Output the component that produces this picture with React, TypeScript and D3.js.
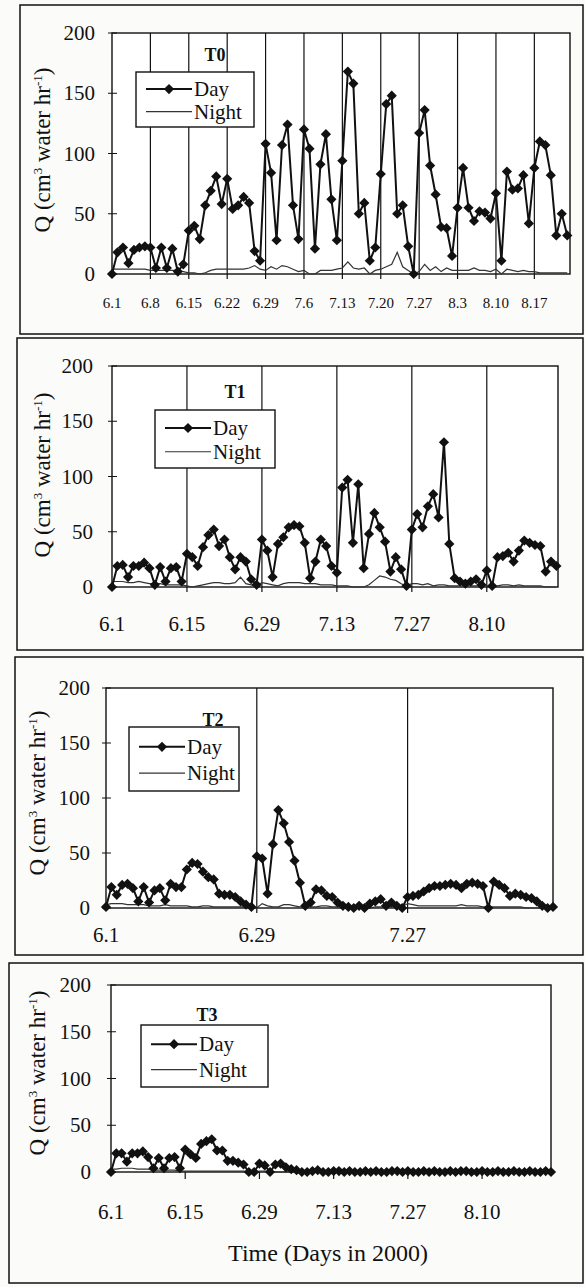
import React from "react";
import * as d3 from "d3";

// ---------- data (daily values, 6.1 = day 0) ----------
const t0Day = [0,18,22,9,20,22,23,22,5,22,
  5,21,2,8,36,40,29,57,69,81,
  58,79,54,57,64,59,19,11,108,84,
  28,107,124,57,29,120,104,21,91,116,
  62,28,94,168,158,50,59,11,22,83,
  141,148,50,57,23,0,117,136,90,66,
  39,38,15,55,88,55,44,52,51,46,
  67,11,85,70,71,82,42,88,110,107,
  82,32,50,32];
const t0Night = [4,4,4,4,4,4,4,3,3,3,
  3,3,3,2,1,1,0,1,3,4,
  4,4,4,4,4,5,7,4,3,6,
  4,7,6,4,2,3,0,0,3,3,
  3,4,5,10,5,4,5,0,3,4,
  6,8,18,6,3,0,2,8,3,6,
  2,5,3,3,3,3,5,3,3,2,
  4,0,4,3,2,3,2,2,1,1,
  1,1,1,1];
const t1Day = [0,19,20,9,19,19,22,17,2,18,
  5,17,18,5,30,27,19,36,47,52,
  37,43,27,16,27,23,7,2,43,33,
  9,39,45,54,56,55,40,8,23,43,
  37,19,13,90,97,40,93,17,48,67,
  54,41,14,27,16,1,52,66,54,73,
  84,63,131,39,8,5,3,5,7,2,
  15,1,27,28,31,23,33,42,40,38,
  37,14,23,19];
const t1Night = [5,5,5,4,4,5,4,3,3,3,
  2,2,2,2,1,0,1,2,3,4,
  4,3,3,4,9,3,2,1,4,3,
  2,1,3,4,4,4,3,3,3,2,
  2,2,1,1,1,0,0,0,2,6,
  10,9,7,6,3,1,3,3,2,3,
  1,2,2,1,1,1,1,1,1,1,
  1,1,1,2,2,1,2,1,1,1,
  1,0,0,0];
const t2Day = [1,19,12,21,22,18,6,19,5,16,
  18,7,22,19,19,35,41,40,33,28,
  26,13,12,12,10,6,3,1,47,45,
  13,58,89,77,60,43,23,2,5,17,
  16,11,10,5,2,1,0,2,0,4,
  6,8,2,5,2,0,10,11,12,15,
  18,20,20,21,22,21,18,22,23,22,
  20,0,24,21,18,11,13,12,10,9,
  6,2,0,1];
const t2Night = [3,4,4,4,3,3,3,3,2,2,
  2,3,2,2,2,2,1,1,2,2,
  1,1,1,1,1,1,1,0,0,4,
  2,1,1,3,3,2,1,1,1,1,
  2,2,1,1,1,1,1,1,0,0,
  1,1,1,1,1,1,4,3,2,2,
  2,2,2,2,2,2,3,2,2,2,
  1,1,1,1,1,1,1,1,0,0,
  0,0,0,0];
const t3Day = [0,20,20,11,20,20,22,16,4,15,
  4,15,16,4,24,19,15,30,33,35,
  23,23,12,12,10,8,0,0,9,7,
  0,8,9,5,3,2,0,0,1,2,
  0,0,1,1,0,1,0,0,1,0,
  1,0,0,1,1,0,1,0,0,1,
  0,1,0,0,1,0,1,1,0,0,
  1,0,0,1,0,0,1,0,0,1,
  0,0,1,0];
const t3Night = [3,3,4,4,4,3,3,3,2,2,
  2,2,2,1,1,1,1,1,1,1,
  1,1,1,1,1,1,0,0,1,1,
  1,0,0,0,0,0,0,0,0,0,
  0,0,0,0,0,0,0,0,0,0,
  0,0,0,0,0,0,0,0,0,0,
  0,0,0,0,0,0,0,0,0,0,
  0,0,0,0,0,0,0,0,0,0,
  0,0,0,0];

const t0TickLabels = ["6.1","6.8","6.15","6.22","6.29","7.6","7.13","7.20","7.27","8.3","8.10","8.17"];
const t0TickDays = [0,7,14,21,28,35,42,49,56,63,70,77];
const t1TickLabels = ["6.1","6.15","6.29","7.13","7.27","8.10"];
const t1TickDays = [0,14,28,42,56,70];
const t2TickLabels = ["6.1","6.29","7.27"];
const t2TickDays = [0,28,56];
const t3TickLabels = ["6.1","6.15","6.29","7.13","7.27","8.10"];
const t3TickDays = [0,14,28,42,56,70];
const yTicks = [0, 50, 100, 150, 200];
const seriesNames = ["Day", "Night"];
const panelTitles = ["T0", "T1", "T2", "T3"];
const xTitle = "Time (Days in 2000)";

const FONT = "Liberation Serif, Tinos, DejaVu Serif, serif";

type Cfg = {
  title: string; day: number[]; night: number[];
  tickDays: number[]; tickLabels: string[]; gridlines: boolean;
  frame: [number, number, number, number];
  left: number; right: number; top: number; bottom: number; xMax: number;
  tickFont: number; tickY: number; yLabX: number;
  titleX: number; titleY: number;
  legend: [number, number, number, number];
  yTitleX: number; yTitleY: number;
};

const panels: Cfg[] = [
  { title: panelTitles[0], day: t0Day, night: t0Night, tickDays: t0TickDays, tickLabels: t0TickLabels, gridlines: true,
    frame: [20, 5, 583, 334], left: 112, right: 570, top: 33, bottom: 274, xMax: 83.5,
    tickFont: 15, tickY: 308, yLabX: 95, titleX: 215, titleY: 61,
    legend: [136, 72, 254, 127], yTitleX: 50, yTitleY: 150 },
  { title: panelTitles[1], day: t1Day, night: t1Night, tickDays: t1TickDays, tickLabels: t1TickLabels, gridlines: true,
    frame: [17, 338, 583, 650], left: 112, right: 558, top: 366, bottom: 587, xMax: 83.3,
    tickFont: 21, tickY: 631, yLabX: 93, titleX: 235, titleY: 398,
    legend: [155, 410, 275, 468], yTitleX: 50, yTitleY: 475 },
  { title: panelTitles[2], day: t2Day, night: t2Night, tickDays: t2TickDays, tickLabels: t2TickLabels, gridlines: true,
    frame: [15, 657, 583, 955], left: 106, right: 553, top: 688, bottom: 908, xMax: 83,
    tickFont: 21, tickY: 942, yLabX: 90, titleX: 213, titleY: 726,
    legend: [129, 727, 239, 791], yTitleX: 45, yTitleY: 793 },
  { title: panelTitles[3], day: t3Day, night: t3Night, tickDays: t3TickDays, tickLabels: t3TickLabels, gridlines: false,
    frame: [9, 963, 583, 1283], left: 111, right: 551, top: 985, bottom: 1172, xMax: 83,
    tickFont: 21, tickY: 1219, yLabX: 91, titleX: 207, titleY: 1021,
    legend: [141, 1025, 268, 1087], yTitleX: 45, yTitleY: 1073 },
];

function Panel({ c }: { c: Cfg }) {
  const x = d3.scaleLinear().domain([0, c.xMax]).range([c.left, c.right]);
  const y = d3.scaleLinear().domain([0, 200]).range([c.bottom, c.top]);
  const line = d3.line<number>().x((_, i) => x(i)).y((d) => y(d));
  const diamond = d3.symbol().type(d3.symbolSquare).size(52)() as string;
  const [lx1, ly1, lx2, ly2] = c.legend;
  const row1 = ly1 + (ly2 - ly1) * 0.31;
  const row2 = ly1 + (ly2 - ly1) * 0.72;
  const sx1 = lx1 + 10, sx2 = lx1 + 56, tx = lx1 + 58;
  return (
    <g>
      <rect x={c.frame[0]} y={c.frame[1]} width={c.frame[2] - c.frame[0]} height={c.frame[3] - c.frame[1]}
        fill="none" stroke="#111" strokeWidth={1.5} />
      <rect x={c.left} y={c.top} width={c.right - c.left} height={c.bottom - c.top} fill="#fff" stroke="#111" strokeWidth={1.4} />
      {c.gridlines && c.tickDays.filter((d) => d > 0).map((d) => (
        <line key={"g" + d} x1={x(d)} x2={x(d)} y1={c.top} y2={c.bottom + 5} stroke="#111" strokeWidth={1.2} />
      ))}
      {!c.gridlines && c.tickDays.filter((d) => d > 0).map((d) => (
        <line key={"t" + d} x1={x(d)} x2={x(d)} y1={c.bottom} y2={c.bottom + 7} stroke="#111" strokeWidth={1.2} />
      ))}
      {yTicks.map((v) => (
        <g key={"y" + v}>
          <line x1={c.left - 4} x2={c.left + 5} y1={y(v)} y2={y(v)} stroke="#111" strokeWidth={1} />
          <text x={c.yLabX} y={y(v) + 7} textAnchor="end" fontSize={21} fontFamily={FONT} fill="#111">{v}</text>
        </g>
      ))}
      {c.tickDays.map((d, i) => (
        <text key={"xl" + d} x={x(d)} y={c.tickY} textAnchor="middle" fontSize={c.tickFont} fontFamily={FONT} fill="#111">
          {c.tickLabels[i]}
        </text>
      ))}
      <path d={line(c.night) || ""} fill="none" stroke="#333" strokeWidth={1.2} />
      <path d={line(c.day) || ""} fill="none" stroke="#111" strokeWidth={2} />
      {c.day.map((v, i) => (
        <path key={"m" + i} d={diamond} transform={`translate(${x(i)},${y(v)}) rotate(45)`} fill="#111" />
      ))}
      <text x={c.titleX} y={c.titleY} textAnchor="middle" fontSize={18} fontWeight="bold" fontFamily={FONT} fill="#111">{c.title}</text>
      <rect x={lx1} y={ly1} width={lx2 - lx1} height={ly2 - ly1} fill="#fff" stroke="#111" strokeWidth={1.4} />
      <line x1={sx1} x2={sx2} y1={row1} y2={row1} stroke="#111" strokeWidth={2} />
      <path d={diamond} transform={`translate(${(sx1 + sx2) / 2},${row1}) rotate(45)`} fill="#111" />
      <text x={tx} y={row1 + 7} fontSize={21} fontFamily={FONT} fill="#111">{seriesNames[0]}</text>
      <line x1={sx1} x2={sx2} y1={row2} y2={row2} stroke="#333" strokeWidth={1.2} />
      <text x={tx} y={row2 + 7} fontSize={21} fontFamily={FONT} fill="#111">{seriesNames[1]}</text>
      <text transform={`translate(${c.yTitleX},${c.yTitleY}) rotate(-90)`} textAnchor="middle" fontSize={23} fontFamily={FONT} fill="#111">
        Q (cm<tspan dy={-8} fontSize={13}>3</tspan><tspan dy={8}> water hr</tspan><tspan dy={-8} fontSize={13}>-1</tspan><tspan dy={8}>)</tspan>
      </text>
    </g>
  );
}

export default function App() {
  return (
    <svg width={585} height={1287} style={{ position: "absolute", left: 0, top: 0, background: "#fbfbf9" }}>
      {panels.map((c) => <Panel key={c.title} c={c} />)}
      <text x={328} y={1261} textAnchor="middle" fontSize={24} fontFamily={FONT} fill="#111">{xTitle}</text>
    </svg>
  );
}
